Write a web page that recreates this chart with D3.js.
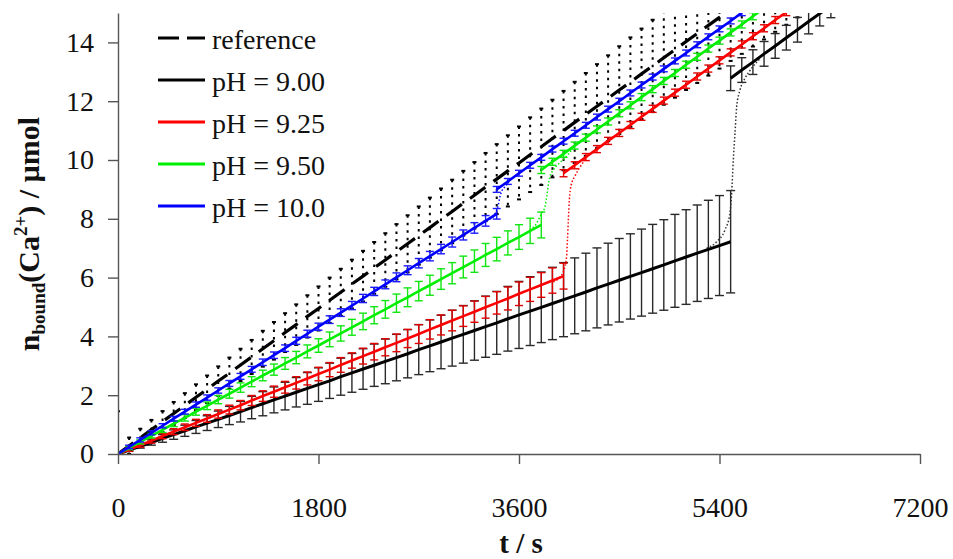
<!DOCTYPE html>
<html><head><meta charset="utf-8">
<script src="https://cdn.jsdelivr.net/npm/d3@7/dist/d3.min.js"></script>
<style>body{margin:0;background:#fff}</style>
</head><body>
<svg id="chart" width="953" height="559"></svg>
<script>
// ---------------- data ----------------
const xTicks = [0, 1800, 3600, 5400, 7200];
const yTicks = [0, 2, 4, 6, 8, 10, 12, 14];
const sampleStep = 100; // s between plotted points

// reference (dashed) – starts at t = 0
const refStart = 0;
const refValues = [0,0.28,0.55,0.83,1.10,1.38,1.65,1.93,2.20,2.48,2.75,3.03,3.30,3.58,3.85,4.13,4.40,4.68,4.95,5.23,5.50,5.78,6.05,6.33,6.60,6.88,7.15,7.43,7.70,7.98,8.25,8.53,8.80,9.08,9.35,9.63,9.90,10.18,10.45,10.73,11.00,11.28,11.55,11.83,12.10,12.38,12.65,12.93,13.20,13.48,13.75,14.03,14.30,14.58,14.85,15.13,15.40,15.68,15.95,16.23,16.50,16.78,17.05];
const refErrors = [1.45,0.28,0.31,0.33,0.36,0.39,0.42,0.44,0.47,0.50,0.53,0.55,0.58,0.61,0.64,0.66,0.69,0.72,0.75,0.77,0.80,0.83,0.86,0.88,0.91,0.94,0.97,0.99,1.02,1.05,1.08,1.10,1.13,1.16,1.19,1.21,1.24,1.27,1.30,1.32,1.35,1.38,1.41,1.43,1.46,1.49,1.52,1.54,1.57,1.60,1.63,1.65,1.68,1.71,1.74,1.76,1.79,1.82,1.85,1.87,1.90,1.93,1.96];

// pH = 9.00
const ph900aStart = 0;
const ph900aValues = [0,0.13,0.26,0.39,0.53,0.66,0.79,0.92,1.05,1.18,1.31,1.44,1.58,1.71,1.84,1.97,2.10,2.23,2.36,2.49,2.63,2.76,2.89,3.02,3.15,3.28,3.41,3.55,3.68,3.81,3.94,4.07,4.20,4.33,4.46,4.60,4.73,4.86,4.99,5.12,5.25,5.38,5.51,5.65,5.78,5.91,6.04,6.17,6.30,6.43,6.57,6.70,6.83,6.96,7.09,7.22];
const ph900aErrors = [0,0.03,0.06,0.09,0.13,0.16,0.19,0.22,0.25,0.28,0.31,0.35,0.38,0.41,0.44,0.47,0.50,0.54,0.57,0.60,0.63,0.66,0.69,0.72,0.76,0.79,0.82,0.85,0.88,0.91,0.95,0.98,1.01,1.04,1.07,1.10,1.14,1.17,1.20,1.23,1.26,1.29,1.32,1.36,1.39,1.42,1.45,1.48,1.51,1.54,1.58,1.61,1.64,1.67,1.70,1.74];
const ph900bStart = 5500;
const ph900bValues = [12.78,13.06,13.33,13.61,13.88,14.16,14.43,14.71,14.98,15.26];
const ph900bErrors = [0.42,0.42,0.42,0.42,0.42,0.42,0.42,0.42,0.42,0.42];
const ph900JumpT = [5285,5375,5449,5494,5509,5524,5539,5554,5584,5629,5689,5764];
const ph900JumpV = [7.00,7.22,7.62,8.19,8.87,10.00,10.91,11.81,12.38,12.78,13.12,13.45];

// pH = 9.25
const ph925aStart = 0;
const ph925aValues = [0,0.15,0.30,0.45,0.61,0.76,0.91,1.06,1.21,1.36,1.51,1.66,1.82,1.97,2.12,2.27,2.42,2.57,2.72,2.87,3.03,3.18,3.33,3.48,3.63,3.78,3.93,4.08,4.24,4.39,4.54,4.69,4.84,4.99,5.14,5.29,5.45,5.60,5.75,5.90,6.05];
const ph925aErrors = [0.05,0.06,0.07,0.08,0.09,0.10,0.11,0.12,0.13,0.14,0.15,0.16,0.17,0.18,0.19,0.20,0.21,0.22,0.23,0.24,0.25,0.26,0.27,0.28,0.29,0.30,0.31,0.32,0.33,0.34,0.35,0.35,0.36,0.37,0.38,0.39,0.40,0.41,0.42,0.43,0.44];
const ph925bStart = 4000;
const ph925bValues = [9.55,9.82,10.10,10.37,10.65,10.92,11.19,11.47,11.74,12.02,12.29,12.56,12.84,13.11,13.39,13.66,13.93,14.21,14.48,14.76,15.03];
const ph925bErrors = [0.12,0.12,0.12,0.12,0.12,0.12,0.12,0.12,0.12,0.12,0.12,0.12,0.12,0.12,0.12,0.12,0.12,0.12,0.12,0.12,0.12];
const ph925JumpT = [3908,3968,4004,4026,4035,4043,4052,4067,4103,4148,4210];
const ph925JumpV = [5.86,6.02,6.26,6.67,7.28,7.96,8.64,9.12,9.46,9.76,10.10];

// pH = 9.50
const ph950aStart = 0;
const ph950aValues = [0,0.21,0.41,0.62,0.82,1.03,1.23,1.44,1.64,1.85,2.05,2.26,2.46,2.67,2.87,3.08,3.28,3.49,3.69,3.90,4.10,4.31,4.51,4.72,4.92,5.13,5.33,5.54,5.74,5.95,6.15,6.36,6.56,6.77,6.97,7.18,7.38,7.59,7.79];
const ph950aErrors = [0.05,0.06,0.07,0.08,0.09,0.10,0.11,0.12,0.13,0.14,0.15,0.16,0.17,0.18,0.19,0.20,0.21,0.22,0.23,0.25,0.26,0.27,0.28,0.29,0.30,0.31,0.32,0.33,0.34,0.35,0.36,0.37,0.38,0.39,0.40,0.41,0.42,0.43,0.44];
const ph950bStart = 3800;
const ph950bValues = [9.66,9.94,10.21,10.49,10.76,11.04,11.31,11.59,11.86,12.14,12.41,12.69,12.96,13.24,13.51,13.79,14.06,14.34,14.61,14.89,15.16];
const ph950bErrors = [0.12,0.12,0.12,0.12,0.12,0.12,0.12,0.12,0.12,0.12,0.12,0.12,0.12,0.12,0.12,0.12,0.12,0.12,0.12,0.12,0.12];
const ph950JumpT = [3699,3753,3804,3833,3849,3863,3878,3908,3953,4013,4076];
const ph950JumpV = [7.62,7.82,8.19,8.41,8.75,9.15,9.43,9.66,9.86,10.07,10.36];

// pH = 10.0
const ph1000aStart = 0;
const ph1000aValues = [0,0.24,0.48,0.72,0.96,1.20,1.44,1.68,1.92,2.16,2.40,2.64,2.88,3.12,3.36,3.60,3.85,4.09,4.33,4.57,4.81,5.05,5.29,5.53,5.77,6.01,6.25,6.49,6.73,6.97,7.21,7.45,7.69,7.93,8.17];
const ph1000aErrors = [0.06,0.06,0.07,0.07,0.07,0.08,0.08,0.09,0.09,0.09,0.10,0.10,0.10,0.11,0.11,0.11,0.12,0.12,0.12,0.13,0.13,0.14,0.14,0.14,0.15,0.15,0.15,0.16,0.16,0.16,0.17,0.17,0.18,0.18,0.18];
const ph1000bStart = 3400;
const ph1000bValues = [9.00,9.27,9.55,9.82,10.09,10.37,10.64,10.91,11.18,11.46,11.73,12.00,12.28,12.55,12.82,13.10,13.37,13.64,13.92,14.19,14.46,14.73,15.01];
const ph1000bErrors = [0.10,0.10,0.10,0.10,0.10,0.10,0.10,0.10,0.10,0.10,0.10,0.10,0.10,0.10,0.10,0.10,0.10,0.10,0.10,0.10,0.10,0.10,0.10];
const ph1000JumpT = [3340,3384,3414,3429,3447,3474,3510];
const ph1000JumpV = [7.99,8.16,8.47,8.75,8.96,9.09,9.27];

const legendLabels = ["reference", "pH = 9.00", "pH = 9.25", "pH = 9.50", "pH = 10.0"];
const seriesColors = ["#000000", "#000000", "#ff0000", "#00ee00", "#0000ff"];

// ---------------- drawing ----------------
const svg = d3.select("#chart");
const x = d3.scaleLinear().domain([0, 7200]).range([118, 920]);
const y = d3.scaleLinear().domain([0, 15]).range([454, 13]);
const FONT = "'Palatino Linotype','Book Antiqua',Palatino,'Liberation Serif','Times New Roman',serif";

svg.append("defs").append("clipPath").attr("id", "plot")
  .append("rect").attr("x", 118).attr("y", 13).attr("width", 802).attr("height", 441);

function pts(start, values, errors) {
  return values.map((v, i) => ({ t: start + i * sampleStep, v: v, e: errors ? errors[i] : 0 }));
}
const line = d3.line().x(d => x(d.t)).y(d => y(d.v));
const curve = d3.line().x(d => x(d.t)).y(d => y(d.v)).curve(d3.curveMonotoneX);

const plot = svg.append("g").attr("clip-path", "url(#plot)");

function errorBars(data, color, width, capHalf, dash) {
  const g = plot.append("g").attr("stroke", color).attr("stroke-width", width).attr("fill", "none");
  data.forEach(d => {
    if (d.e <= 0) return;
    const cx = x(d.t), y1 = y(d.v - d.e), y2 = y(d.v + d.e);
    const v = g.append("line").attr("x1", cx).attr("x2", cx).attr("y1", y2).attr("y2", y1);
    if (dash) v.attr("stroke-dasharray", dash);
    g.append("line").attr("x1", cx - capHalf).attr("x2", cx + capHalf).attr("y1", y1).attr("y2", y1);
    g.append("line").attr("x1", cx - capHalf).attr("x2", cx + capHalf).attr("y1", y2).attr("y2", y2);
  });
}
function drawLine(data, color, width, dash) {
  const p = plot.append("path").datum(data).attr("d", line)
    .attr("fill", "none").attr("stroke", color).attr("stroke-width", width);
  if (dash) p.attr("stroke-dasharray", dash);
}
function drawJump(ts, vs, color) {
  const data = ts.map((t, i) => ({ t: t, v: vs[i] }));
  plot.append("path").datum(data).attr("d", curve)
    .attr("fill", "none").attr("stroke", color).attr("stroke-width", 1.5)
    .attr("stroke-dasharray", "1.5,2");
}

// reference
const refPts = pts(refStart, refValues, refErrors);
errorBars(refPts, "#000", 2, 2, "2.5,5");
drawLine(refPts, "#000", 3.2, "19,10");

// pH 9.00
const b1 = pts(ph900aStart, ph900aValues, ph900aErrors);
const b2 = pts(ph900bStart, ph900bValues, ph900bErrors);
errorBars(b1, "#2a2a2a", 1.4, 4.5);
errorBars(b2, "#2a2a2a", 1.4, 4.5);
drawJump(ph900JumpT, ph900JumpV, "#333");
drawLine(b1, "#000", 3);
drawLine(b2, "#000", 3);

// pH 9.25
const r1 = pts(ph925aStart, ph925aValues, ph925aErrors);
const r2 = pts(ph925bStart, ph925bValues, ph925bErrors);
errorBars(r1, "#e00000", 1.4, 4);
errorBars(r2, "#e00000", 1.4, 4);
drawJump(ph925JumpT, ph925JumpV, "#ff0000");
drawLine(r1, "#ff0000", 2.6);
drawLine(r2, "#ff0000", 2.6);

// pH 9.50
const g1 = pts(ph950aStart, ph950aValues, ph950aErrors);
const g2 = pts(ph950bStart, ph950bValues, ph950bErrors);
errorBars(g1, "#11e611", 1.4, 4);
errorBars(g2, "#11e611", 1.4, 4);
drawJump(ph950JumpT, ph950JumpV, "#00ee00");
drawLine(g1, "#00ee00", 2.6);
drawLine(g2, "#00ee00", 2.6);

// pH 10.0
const u1 = pts(ph1000aStart, ph1000aValues, ph1000aErrors);
const u2 = pts(ph1000bStart, ph1000bValues, ph1000bErrors);
errorBars(u1, "#1a1aff", 1.4, 4);
errorBars(u2, "#1a1aff", 1.4, 4);
drawJump(ph1000JumpT, ph1000JumpV, "#0000ff");
drawLine(u1, "#0000ff", 2.6);
drawLine(u2, "#0000ff", 2.6);

// axes
const xAxis = svg.append("g").attr("transform", "translate(0,454)")
  .call(d3.axisBottom(x).tickValues(xTicks).tickSize(10).tickSizeOuter(0).tickPadding(33).tickFormat(d3.format("d")));
const yAxis = svg.append("g").attr("transform", "translate(118,0)")
  .call(d3.axisLeft(y).tickValues(yTicks).tickSize(10).tickSizeOuter(0).tickPadding(14).tickFormat(d3.format("d")));
[xAxis, yAxis].forEach(a => {
  a.select(".domain").attr("stroke", "#555").attr("stroke-width", 1.4);
  a.selectAll(".tick line").attr("stroke", "#555").attr("stroke-width", 1.4);
  a.selectAll(".tick text").attr("font-family", FONT).attr("font-size", 28).attr("fill", "#111");
});

// axis titles
svg.append("text").attr("x", 521).attr("y", 553).attr("text-anchor", "middle")
  .attr("font-family", FONT).attr("font-size", 29).attr("font-weight", "bold").attr("fill", "#111")
  .text("t / s");
const yt = svg.append("text").attr("transform", "translate(39,234) rotate(-90)")
  .attr("text-anchor", "middle").attr("font-family", FONT).attr("font-weight", "bold")
  .attr("font-size", 30).attr("fill", "#111");
yt.append("tspan").text("n");
yt.append("tspan").attr("font-size", 19).attr("dy", 6).text("bound");
yt.append("tspan").attr("dy", -6).text("(Ca");
yt.append("tspan").attr("font-size", 19).attr("dy", -12).text("2+");
yt.append("tspan").attr("dy", 12).text(") / µmol");

// legend
const leg = svg.append("g");
legendLabels.forEach((lab, i) => {
  const ly = 38 + i * 42;
  const ln = leg.append("line").attr("x1", 158).attr("x2", 205).attr("y1", ly).attr("y2", ly)
    .attr("stroke", seriesColors[i]).attr("stroke-width", i === 0 ? 3.2 : 2.8);
  if (i === 0) ln.attr("stroke-dasharray", "21,8");
  leg.append("text").attr("x", 212).attr("y", ly + 10.5).attr("font-family", FONT)
    .attr("font-size", 28).attr("fill", "#111").text(lab);
});
</script>
</body></html>
